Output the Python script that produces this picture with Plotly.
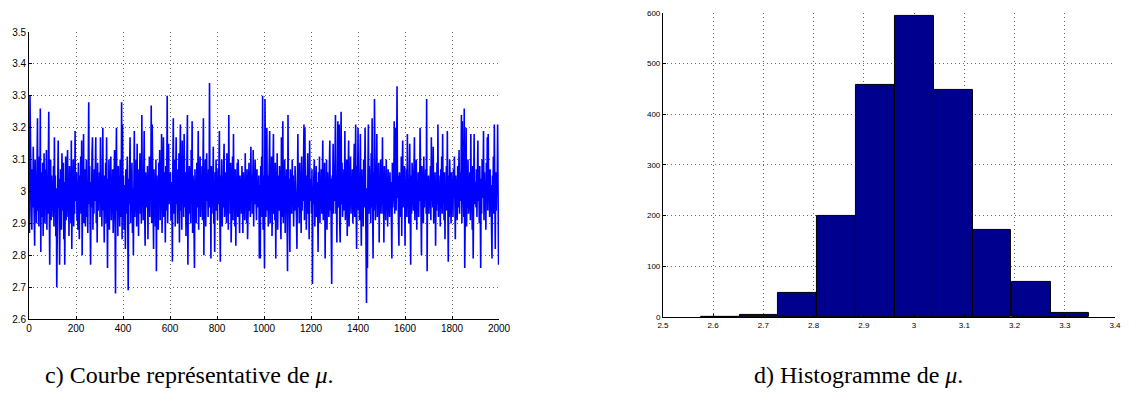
import numpy as np
import plotly.graph_objects as go

# Trace of mu (one value every 2 iterations)
mu_samples = [
    2.98, 2.87, 3.30, 3.04, 3.16, 2.93, 2.88, 3.07, 2.95, 3.14, 3.01, 2.91, 2.83, 3.10, 2.97, 3.05, 2.90, 3.08, 3.23, 2.94,
    3.02, 2.89, 3.11, 2.96, 3.26, 2.81, 3.06, 2.99, 2.92, 3.09, 2.86, 3.03, 3.12, 2.95, 2.90, 3.07, 2.98, 3.13, 2.88, 3.04,
    2.93, 3.08, 3.25, 2.97, 2.77, 3.01, 3.10, 2.91, 3.05, 2.94,
    3.03, 2.92, 3.08, 2.89, 3.17, 2.96, 3.05, 2.86, 3.01, 2.70, 2.93, 3.10, 3.16, 2.95, 3.04, 2.77, 2.90, 3.07, 2.98, 2.88,
    3.12, 3.00, 2.94, 3.09, 2.85, 3.03, 2.77, 2.97, 3.11, 2.91, 3.06, 2.99, 3.13, 2.92, 3.02, 2.86, 3.08, 2.95, 3.05, 2.90,
    3.16, 2.82, 3.04, 2.96, 3.10, 2.89, 3.01, 2.93, 3.19, 2.97,
    2.99, 3.06, 2.91, 3.03, 2.88, 3.09, 2.95, 2.85, 3.05, 2.97, 3.11, 2.93, 3.16, 2.80, 3.02, 2.94, 3.18, 2.90, 3.07, 2.98,
    2.89, 3.04, 3.10, 2.92, 3.00, 2.87, 3.06, 3.28, 2.96, 3.08, 2.91, 2.77, 3.03, 2.95, 3.12, 3.17, 2.88, 3.01, 2.93, 3.07,
    2.97, 3.05, 3.17, 2.90, 3.02, 2.84, 3.09, 2.94, 3.04, 2.99,
    3.06, 2.92, 3.17, 2.97, 3.02, 2.89, 3.08, 3.20, 2.94, 3.03, 2.84, 3.05, 2.96, 3.09, 2.90, 3.17, 3.00, 2.76, 3.04, 2.93,
    3.10, 2.88, 3.06, 2.98, 3.11, 2.91, 3.02, 2.95, 3.07, 2.87, 3.03, 2.97, 3.13, 2.90, 2.68, 3.05, 3.20, 2.94, 3.01, 2.86,
    3.08, 2.96, 3.04, 2.89, 3.10, 2.99, 2.92, 3.28, 2.85, 3.21,
    2.94, 3.05, 2.88, 3.02, 2.97, 2.82, 3.07, 2.93, 3.00, 3.11, 2.91, 2.69, 3.04, 2.96, 3.08, 3.17, 2.90, 3.03, 2.95, 3.09,
    2.87, 3.01, 2.80, 3.06, 3.19, 2.92, 3.04, 2.98, 3.10, 2.89, 3.15, 2.95, 3.02, 2.86, 3.07, 2.99, 3.12, 2.93, 3.05, 2.90,
    3.24, 2.97, 3.03, 2.91, 3.08, 3.19, 2.94, 2.83, 3.06, 2.99,
    3.02, 2.95, 3.08, 2.85, 3.04, 2.97, 3.11, 2.92, 3.06, 2.99, 3.27, 2.90, 3.21, 3.01, 2.94, 2.82, 3.07, 2.96, 3.03, 2.89,
    3.10, 2.75, 3.05, 2.93, 3.00, 2.88, 3.09, 2.98, 3.13, 2.91, 3.04, 2.95, 3.18, 2.87, 3.02, 2.97, 3.17, 2.92, 3.06, 2.99,
    2.84, 3.08, 2.94, 3.03, 3.30, 2.90, 3.01, 3.15, 2.96, 3.05,
    2.97, 3.06, 2.91, 3.03, 2.95, 2.78, 3.08, 3.23, 2.93, 3.01, 3.10, 2.89, 3.04, 3.17, 2.96, 3.02, 2.90, 3.07, 2.98, 3.12,
    2.84, 3.05, 3.21, 2.94, 3.00, 2.88, 3.16, 2.97, 3.09, 2.92, 3.18, 3.03, 2.95, 3.06, 2.86, 3.11, 2.99, 3.24, 2.77, 3.04,
    2.93, 3.08, 2.96, 3.02, 2.90, 3.13, 2.98, 3.22, 2.87, 3.05,
    3.01, 2.93, 2.76, 3.07, 2.97, 3.04, 2.90, 3.09, 2.95, 3.02, 3.19, 2.88, 3.05, 2.98, 3.11, 2.92, 3.03, 2.96, 3.08, 2.91,
    3.00, 3.23, 2.80, 3.06, 2.94, 3.10, 2.89, 3.04, 3.12, 2.97, 3.02, 2.92, 3.07, 2.95, 3.34, 2.99, 3.05, 2.79, 3.08, 2.93,
    3.03, 2.96, 3.14, 2.90, 3.01, 2.81, 3.06, 2.97, 3.10, 2.94,
    3.02, 2.91, 3.07, 2.96, 3.04, 3.19, 2.93, 2.78, 3.05, 2.98, 3.10, 2.89, 3.03, 2.95, 3.08, 3.15, 2.92, 3.01, 2.97, 3.06,
    2.90, 3.12, 2.96, 3.04, 2.88, 3.24, 2.99, 3.05, 2.93, 3.09, 2.84, 3.03, 2.97, 3.11, 2.91, 3.18, 2.95, 3.02, 2.89, 3.07,
    2.83, 3.04, 2.98, 3.09, 2.92, 3.10, 2.96, 3.01, 2.87, 3.05,
    2.97, 3.04, 2.93, 3.08, 3.00, 2.87, 3.06, 2.95, 3.02, 2.91, 3.12, 2.96, 3.03, 2.90, 3.07, 2.85, 3.01, 2.97, 3.09, 2.94,
    3.04, 2.92, 3.14, 2.98, 3.05, 2.93, 3.02, 3.13, 2.89, 3.06, 2.96, 3.10, 2.99, 3.03, 2.91, 3.07, 2.95, 3.01, 2.97, 3.05,
    2.79, 3.02, 2.79, 3.08, 2.94, 3.11, 2.92, 3.30, 2.88, 3.05,
    2.96, 2.76, 3.29, 3.01, 2.92, 3.08, 3.20, 2.94, 3.05, 2.89, 3.03, 2.97, 3.19, 2.90, 3.07, 2.95, 3.11, 2.86, 3.02, 2.98,
    3.18, 2.93, 3.04, 2.91, 3.09, 2.79, 3.06, 2.96, 3.12, 2.88, 3.00, 3.05, 2.94, 3.08, 2.97, 3.03, 2.85, 3.17, 2.92, 3.06,
    3.22, 2.90, 3.01, 2.96, 3.10, 2.87, 3.04, 2.99, 3.07, 2.93,
    2.75, 3.24, 2.95, 3.04, 2.91, 2.81, 3.07, 2.98, 3.02, 2.93, 3.10, 2.96, 3.05, 2.89, 3.03, 2.94, 3.08, 2.97, 3.01, 2.92,
    2.82, 3.06, 3.18, 2.95, 3.03, 2.90, 3.09, 2.98, 3.04, 2.87, 3.11, 2.94, 3.02, 2.97, 3.07, 3.21, 2.91, 3.20, 2.96, 3.05,
    2.88, 3.03, 2.99, 3.12, 2.93, 3.06, 2.85, 3.16, 2.97, 3.02,
    3.04, 2.93, 3.07, 2.71, 3.01, 2.96, 3.05, 3.10, 2.89, 3.02, 2.95, 3.08, 2.92, 3.03, 2.97, 2.81, 3.06, 2.94, 3.11, 2.90,
    3.02, 2.98, 3.07, 2.93, 3.04, 3.16, 2.91, 3.05, 2.96, 3.09, 2.79, 3.03, 2.95, 3.10, 2.88, 3.06, 2.97, 3.02, 2.92, 3.08,
    3.16, 2.94, 3.04, 2.87, 2.71, 3.05, 2.99, 3.15, 2.93, 3.06,
    2.97, 3.06, 3.24, 2.93, 3.01, 2.84, 3.08, 3.22, 2.95, 3.03, 3.21, 2.90, 2.84, 3.05, 3.25, 2.96, 3.09, 2.92, 3.02, 2.98,
    3.07, 2.94, 3.19, 2.91, 3.04, 2.97, 3.10, 2.86, 3.03, 2.95, 3.16, 2.89, 3.06, 2.98, 3.11, 2.93, 3.01, 2.96, 3.07, 2.90,
    3.04, 2.97, 3.15, 2.92, 3.03, 3.21, 2.95, 2.82, 3.08, 2.99,
    3.20, 2.94, 3.05, 2.91, 3.02, 3.18, 2.96, 2.83, 3.07, 2.98, 3.04, 2.89, 3.10, 2.95, 3.03, 3.20, 2.92, 3.06, 2.65, 3.01,
    2.76, 3.05, 3.21, 2.93, 3.08, 2.97, 3.02, 2.90, 3.12, 2.95, 3.23, 2.98, 2.79, 3.06, 2.94, 3.29, 3.01, 2.91, 3.07, 2.96,
    3.18, 2.92, 3.04, 2.97, 3.09, 2.84, 3.03, 2.95, 3.10, 2.93,
    3.02, 2.96, 3.17, 2.93, 3.05, 2.84, 3.08, 2.97, 3.03, 2.91, 3.10, 2.95, 3.04, 2.89, 3.07, 2.98, 3.01, 2.92, 3.06, 2.96,
    3.03, 2.90, 2.79, 3.09, 2.95, 3.04, 2.97, 3.22, 2.93, 3.02, 3.20, 2.94, 3.07, 3.33, 2.98, 3.05, 2.91, 2.83, 3.06, 2.99,
    3.03, 2.92, 3.11, 2.86, 3.04, 3.16, 2.95, 3.01, 2.97, 3.08,
    2.83, 3.04, 2.95, 3.07, 2.92, 3.18, 2.98, 3.03, 2.90, 3.06, 3.15, 2.96, 2.77, 3.05, 2.93, 3.09, 2.99, 3.02, 2.94, 3.07,
    3.17, 2.91, 3.04, 2.97, 3.10, 2.88, 3.03, 2.95, 3.06, 2.92, 3.01, 2.97, 3.20, 2.94, 3.05, 2.80, 3.08, 2.96, 3.02, 2.90,
    3.11, 2.95, 3.04, 2.98, 3.07, 2.93, 3.29, 2.75, 3.03, 2.97,
    3.05, 2.93, 3.02, 2.96, 3.08, 2.91, 3.17, 2.97, 3.04, 2.95, 3.14, 2.90, 3.03, 2.98, 3.06, 2.83, 3.01, 2.94, 3.09, 2.96,
    3.21, 2.92, 3.05, 2.97, 3.02, 2.89, 3.07, 2.95, 3.11, 2.93, 3.18, 2.99, 3.04, 2.91, 3.06, 2.85, 3.03, 2.96, 3.08, 2.94,
    3.19, 2.97, 2.78, 3.05, 2.92, 3.10, 2.98, 3.03, 2.90, 3.06,
    2.96, 3.04, 2.92, 3.07, 2.98, 3.11, 2.94, 2.85, 3.05, 2.99, 3.02, 2.91, 3.08, 2.95, 3.03, 3.13, 2.93, 3.06, 2.97, 3.01,
    3.24, 2.90, 3.22, 2.96, 3.05, 2.92, 3.26, 2.76, 3.04, 2.98, 3.20, 2.89, 3.07, 2.95, 3.10, 2.93, 3.02, 2.97, 3.06, 2.91,
    3.18, 2.94, 3.03, 2.88, 3.08, 2.79, 3.05, 3.18, 2.96, 3.02,
    3.03, 2.95, 3.07, 2.92, 3.01, 3.16, 2.97, 3.05, 2.90, 3.08, 2.96, 2.76, 3.04, 2.93, 3.10, 2.98, 3.02, 3.19, 2.91, 3.06,
    2.95, 3.03, 2.88, 3.09, 2.97, 3.17, 2.94, 3.18, 2.99, 3.04, 2.92, 3.07, 2.96, 3.02, 2.89, 2.79, 3.05, 2.98, 3.11, 2.93,
    3.21, 2.97, 2.82, 3.06, 2.94, 3.04, 2.99, 3.21, 3.08, 2.77,
]
iteration_step = 2

# Histogram of mu (right panel)
bin_centers = [2.614, 2.691, 2.768, 2.846, 2.923, 3.000, 3.078, 3.155, 3.233, 3.310]
bin_counts = [1, 4, 47, 199, 457, 595, 449, 172, 70, 8]
bin_width = 0.0774

caption_left = "c) Courbe représentative de <i>μ</i>."
caption_right = "d) Histogramme de <i>μ</i>."

iterations = np.arange(len(mu_samples)) * iteration_step

fig = go.Figure()
fig.add_trace(go.Scatter(x=iterations, y=mu_samples, mode='lines',
                         line=dict(color='#0000FF', width=1.6),
                         xaxis='x', yaxis='y', showlegend=False))
fig.add_trace(go.Bar(x=bin_centers, y=bin_counts, width=bin_width,
                     marker=dict(color='#00008F', line=dict(color='black', width=1)),
                     xaxis='x2', yaxis='y2', showlegend=False))

grid = dict(showgrid=True, gridcolor='#666666', griddash='1px,3px', gridwidth=1,
            showline=True, linecolor='black', linewidth=1, ticks='inside', ticklen=3,
            tickcolor='black', zeroline=False, mirror=False, automargin=False)

fig.update_layout(
    width=1143, height=417,
    margin=dict(l=0, r=0, t=0, b=0),
    paper_bgcolor='white', plot_bgcolor='white',
    font=dict(family='Liberation Sans, Arial, sans-serif', color='black'),
    xaxis=dict(domain=[0.0254, 0.4366], range=[0, 2000], dtick=200, tick0=0,
               tickfont=dict(size=10), anchor='y', **grid),
    yaxis=dict(domain=[0.235, 0.923], range=[2.6, 3.5], dtick=0.1, tick0=2.6,
               tickfont=dict(size=10), anchor='x', **grid),
    xaxis2=dict(domain=[0.580, 0.9755], range=[2.5, 3.4], dtick=0.1, tick0=2.5,
                tickfont=dict(size=8), anchor='y2', **grid),
    yaxis2=dict(domain=[0.2398, 0.969], range=[0, 600], dtick=100, tick0=0,
                tickfont=dict(size=8), anchor='x2', **grid),
    bargap=0,
    annotations=[
        dict(text=caption_left, x=189 / 1143, y=1 - 375 / 417, xref='paper', yref='paper',
             xanchor='center', yanchor='middle', showarrow=False,
             font=dict(family='Liberation Serif, serif', size=24)),
        dict(text=caption_right, x=858 / 1143, y=1 - 375 / 417, xref='paper', yref='paper',
             xanchor='center', yanchor='middle', showarrow=False,
             font=dict(family='Liberation Serif, serif', size=24)),
    ],
)

# the page's default body margin would shift the figure by 8px
fig.write_html("out.html", config={'displayModeBar': False},
               post_script="document.body.style.margin = '0';")
